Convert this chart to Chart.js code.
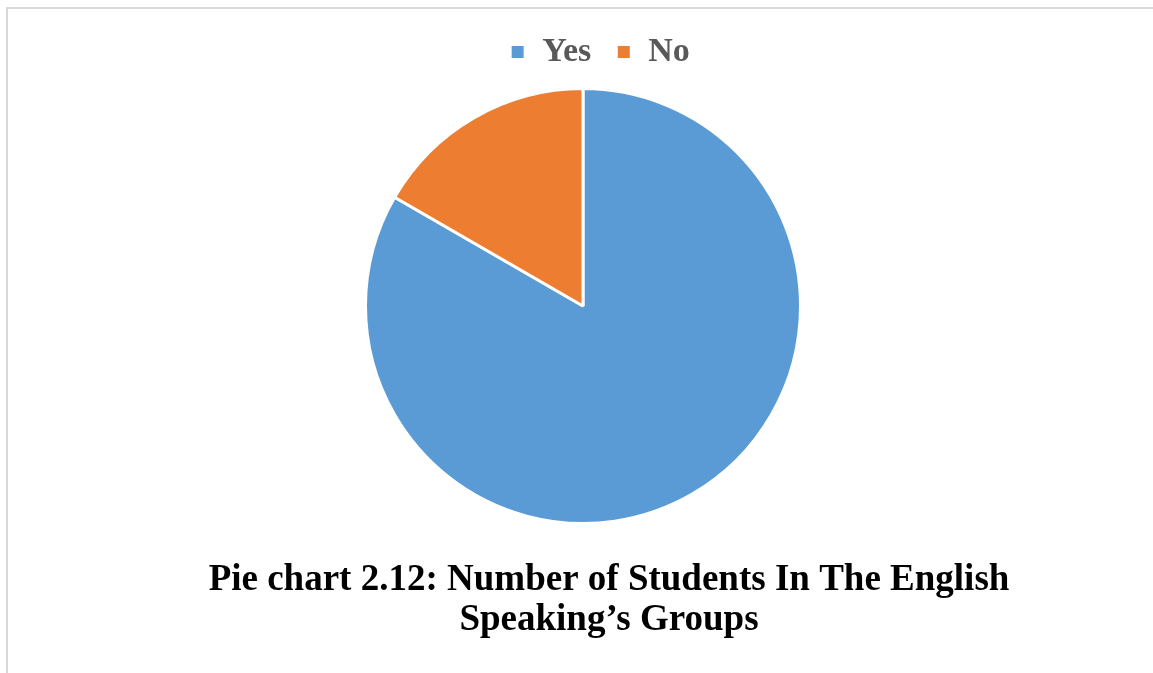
<!DOCTYPE html>
<html>
<head>
<meta charset="utf-8">
<script src="https://cdn.jsdelivr.net/npm/chart.js@4"></script>
<style>
  body { margin: 0; background: #fff; overflow: hidden; }
  #frame {
    position: absolute; left: 6px; top: 7px; width: 1300px; height: 800px;
    border-top: 2px solid #d9d9d9; border-left: 2px solid #d9d9d9;
  }
  canvas { position: absolute; left: 0; top: 0; }
</style>
</head>
<body>
<div id="frame"></div>
<canvas id="chart" width="1153" height="673"></canvas>
<script>
const labels = ["Yes", "No"];
const students = [50, 10];
const sliceColors = ["#5B9BD5", "#ED7D31"];
const titleLines = ["Pie chart 2.12: Number of Students In The English", "Speaking\u2019s Groups"];

// legend and title sit a bit right of the pie in the original
const nudge = {
  id: "nudge",
  afterLayout(chart) {
    chart.legend.left += 17;
    chart.legend.right += 17;
    chart.titleBlock.left += 26;
    chart.titleBlock.right += 26;
  },
};

Chart.defaults.font.family = "'Liberation Serif', 'Times New Roman', serif";

new Chart(document.getElementById("chart").getContext("2d"), {
  type: "pie",
  data: {
    labels,
    datasets: [
      {
        data: students,
        backgroundColor: sliceColors,
        borderColor: "#ffffff",
        borderWidth: 3,
        radius: 217.5,
      },
    ],
  },
  options: {
    responsive: false,
    animation: false,
    layout: { padding: { left: 13, top: 10 } },
    plugins: {
      legend: {
        position: "top",
        labels: {
          boxWidth: 15,
          boxHeight: 15,
          padding: 25,
          color: "#595959",
          font: { size: 34, weight: "bold" },
        },
      },
      title: {
        display: true,
        position: "bottom",
        text: titleLines,
        color: "#000000",
        font: { size: 37, weight: "bold", lineHeight: 1.1 },
        padding: { top: 26.75, bottom: 31.85 },
      },
      tooltip: { enabled: false },
    },
  },
  plugins: [nudge],
});
</script>
</body>
</html>
